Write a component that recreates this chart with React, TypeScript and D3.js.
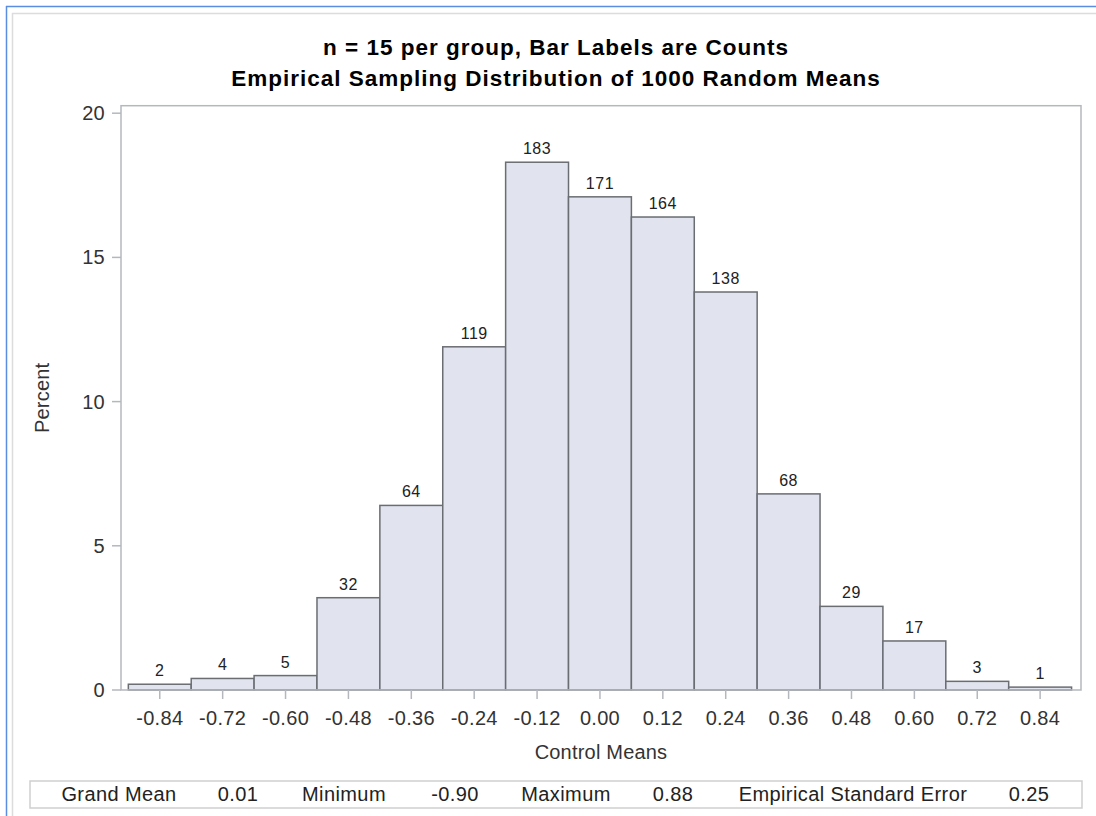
import React from "react";
import * as d3 from "d3";

const binMidpoints = [-0.84, -0.72, -0.6, -0.48, -0.36, -0.24, -0.12, 0.0, 0.12, 0.24, 0.36, 0.48, 0.6, 0.72, 0.84];
const counts = [2, 4, 5, 32, 64, 119, 183, 171, 164, 138, 68, 29, 17, 3, 1];
const binWidth = 0.12;
const totalSamples = 1000;
const yTicks = [0, 5, 10, 15, 20];
const xTickLabels = ["-0.84", "-0.72", "-0.60", "-0.48", "-0.36", "-0.24", "-0.12", "0.00", "0.12", "0.24", "0.36", "0.48", "0.60", "0.72", "0.84"];
const titleLines = ["n = 15 per group, Bar Labels are Counts", "Empirical Sampling Distribution of 1000 Random Means"];
const xAxisLabel = "Control Means";
const yAxisLabel = "Percent";
const statLabels = ["Grand Mean", "Minimum", "Maximum", "Empirical Standard Error"];
const statValues = ["0.01", "-0.90", "0.88", "0.25"];

// layout (not data)
const W = 1096, H = 816;
const plot = { left: 121, right: 1081, top: 105.7, bottom: 690 };
const tableBox = { x: 30, y: 781, w: 1052, h: 27 };
const tableLabelCenters = [119, 344, 566, 853];
const tableValueCenters = [238, 455, 673, 1029];
const FONT = "'Liberation Sans', Arial, sans-serif";

export default function App() {
  const x = d3.scaleLinear().domain([-0.914, 0.918]).range([plot.left, plot.right]);
  const y = d3.scaleLinear().domain([0, 20.26]).range([plot.bottom, plot.top]);
  const pct = counts.map((c) => (c / totalSamples) * 100);

  return (
    <svg width={W} height={H} style={{ position: "fixed", left: 0, top: 0, display: "block", background: "#fff" }} fontFamily={FONT}>
      {/* page frames */}
      <line x1={6} y1={6.5} x2={W} y2={6.5} stroke="#5b8de0" strokeWidth={1.5} />
      <line x1={6.5} y1={6} x2={6.5} y2={H} stroke="#5b8de0" strokeWidth={1.5} />
      <line x1={12} y1={13.5} x2={W} y2={13.5} stroke="#dcdcdc" strokeWidth={1.5} />
      <line x1={12.5} y1={13} x2={12.5} y2={H} stroke="#dcdcdc" strokeWidth={1.5} />

      {/* title */}
      {titleLines.map((t, i) => (
        <text key={i} x={556} y={55 + i * 31} textAnchor="middle" fontSize={22.5} fontWeight="bold" letterSpacing={1.0} fill="#000">
          {t}
        </text>
      ))}

      {/* bars */}
      {binMidpoints.map((m, i) => {
        const x0 = x(m - binWidth / 2);
        const x1 = x(m + binWidth / 2);
        const yt = y(pct[i]);
        return (
          <g key={i}>
            <rect x={x0} y={yt} width={x1 - x0} height={plot.bottom - yt} fill="#e1e3ee" stroke="#6a6d72" strokeWidth={1.5} />
            <text x={(x0 + x1) / 2} y={yt - 8} textAnchor="middle" fontSize={16} letterSpacing={0.5} fill="#222">
              {counts[i]}
            </text>
          </g>
        );
      })}

      {/* frame */}
      <rect x={plot.left} y={plot.top} width={plot.right - plot.left} height={plot.bottom - plot.top} fill="none" stroke="#b4b8bd" strokeWidth={1.5} />

      {/* y axis */}
      {yTicks.map((t) => (
        <g key={t}>
          <line x1={plot.left - 9} x2={plot.left} y1={y(t)} y2={y(t)} stroke="#b4b8bd" strokeWidth={1.5} />
          <text x={plot.left - 16} y={y(t) + 7} textAnchor="end" fontSize={20} letterSpacing={0.3} fill="#333">
            {t}
          </text>
        </g>
      ))}
      <text transform={`translate(49,${(plot.top + plot.bottom) / 2}) rotate(-90)`} textAnchor="middle" fontSize={20} letterSpacing={0.2} fill="#333">
        {yAxisLabel}
      </text>

      {/* x axis */}
      {binMidpoints.map((m, i) => (
        <g key={i}>
          <line x1={x(m)} x2={x(m)} y1={plot.bottom} y2={plot.bottom + 9} stroke="#b4b8bd" strokeWidth={1.5} />
          <text x={x(m)} y={plot.bottom + 35} textAnchor="middle" fontSize={20} letterSpacing={0.3} fill="#333">
            {xTickLabels[i]}
          </text>
        </g>
      ))}
      <text x={(plot.left + plot.right) / 2} y={759} textAnchor="middle" fontSize={20} letterSpacing={0.2} fill="#333">
        {xAxisLabel}
      </text>

      {/* statistics table */}
      <rect x={tableBox.x} y={tableBox.y} width={tableBox.w} height={tableBox.h} fill="#fff" stroke="#cfcfcf" strokeWidth={1.5} />
      {statLabels.map((l, i) => (
        <g key={i}>
          <text x={tableLabelCenters[i]} y={801} textAnchor="middle" fontSize={20} letterSpacing={0.4} fill="#222">
            {l}
          </text>
          <text x={tableValueCenters[i]} y={801} textAnchor="middle" fontSize={20} letterSpacing={0.4} fill="#222">
            {statValues[i]}
          </text>
        </g>
      ))}
    </svg>
  );
}
